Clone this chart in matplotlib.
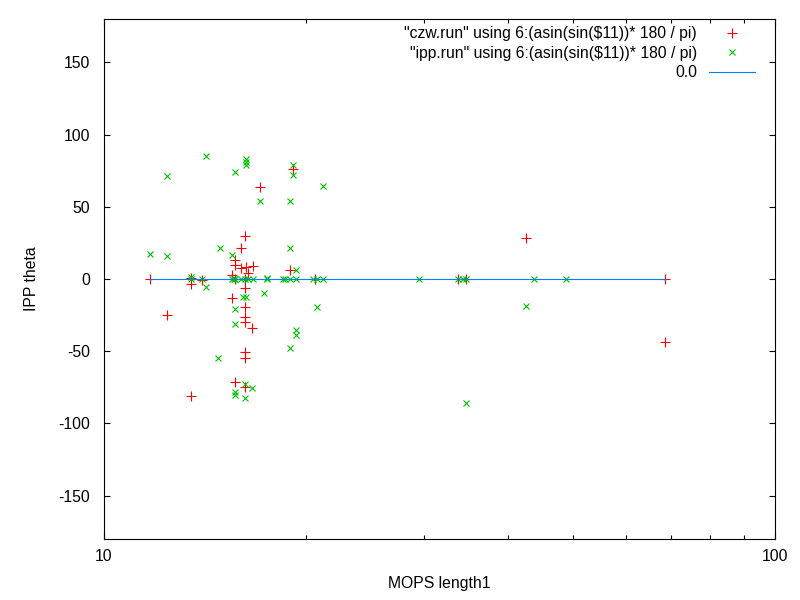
import numpy as np
import matplotlib
matplotlib.use('Agg')
import matplotlib.pyplot as plt
from matplotlib.ticker import LogLocator, NullFormatter, FixedLocator, FixedFormatter

# czw.run: column 6 vs asin(sin($11)) in degrees
czw_x = [11.7, 12.4, 13.5, 13.5, 13.5, 14.0, 15.5, 15.5, 15.7, 15.7, 15.7, 15.7,
         16.0, 16.0, 16.2, 16.2, 16.2, 16.2, 16.2, 16.2, 16.2, 16.2, 16.2,
         16.3, 16.4, 16.6, 16.7, 17.1, 18.9, 19.1, 20.6, 33.7, 34.6, 42.6, 68.5, 68.5]
czw_y = [0, -25, 1, -3.5, -81, -1, 3, -13, 13, 10, -71, 0,
         21.5, 7.5, 30, -6, -19.5, -26.5, -30, -50.5, -54.5, -75, 0,
         8.5, 4, -34, 9, 64, 6, 76, 0, 0, 0, 28.5, 0, -43.5]

# ipp.run
ipp_x = [11.7, 12.4, 12.4, 13.5, 13.5, 14.0, 14.2, 14.2, 14.8, 14.9,
         15.5, 15.5, 15.6, 15.7, 15.7, 15.7, 15.7, 15.7, 15.7,
         16.0, 16.1, 16.3, 16.2, 16.2, 16.2, 16.3, 16.3, 16.3,
         16.4, 16.6, 16.7, 17.1, 17.3, 17.5, 17.5,
         18.5, 18.6, 18.9, 18.9, 18.9, 18.9, 19.1, 19.1,
         19.3, 19.3, 19.3, 19.3, 20.5, 20.8, 20.8, 21.2, 21.2,
         29.5, 33.7, 34.3, 34.6, 34.6, 42.6, 43.7, 48.8]
ipp_y = [17, 16, 71, 0, 1.5, 0, -5.5, 85, -55, 21.5,
         16.5, 0, 0, 0, 74, -21, -31, -78.5, -80,
         0, -12.5, -12.5, 0, -73, -82.5, 83, 81, 79,
         0, -75.5, 0, 54, -10, 0, 1,
         0, 0, 0, 21.5, 54, -48, 79, 72,
         6, 0, -35, -39, 0, 0, -19.5, 0, 64.5,
         0, 0, 0, 0, -86, -19, 0, 0]

y_ticks = [-150, -100, -50, 0, 50, 100, 150]
label_czw = '"czw.run" using 6:(asin(sin(\\$11))* 180 / pi)'
label_ipp = '"ipp.run" using 6:(asin(sin(\\$11))* 180 / pi)'

plt.rcParams['font.family'] = ['Liberation Sans', 'DejaVu Sans']
plt.rcParams['font.size'] = 11.3
plt.rcParams['axes.unicode_minus'] = False

fig = plt.figure(figsize=(8, 6), dpi=100)
ax = fig.add_axes([104 / 800, 1 - 539 / 600, 671 / 800, 520 / 600])

ax.plot(czw_x, czw_y, linestyle='none', marker='+', color='#ff0000',
        markersize=6.5, markeredgewidth=0.8, label=label_czw)
ax.plot(ipp_x, ipp_y, linestyle='none', marker='x', color='#00c000',
        markersize=5, markeredgewidth=0.8, label=label_ipp)
all_x = czw_x + ipp_x
ax.plot([min(all_x), max(all_x)], [0.0, 0.0], color='#0080ff', linewidth=0.8,
        label='0.0')

ax.set_xscale('log')
ax.set_xlim(10, 100)
ax.set_ylim(-180, 180)
ax.xaxis.set_major_locator(FixedLocator([10, 100]))
ax.xaxis.set_major_formatter(FixedFormatter(['10', '100']))
ax.xaxis.set_minor_locator(LogLocator(base=10, subs=np.arange(2, 10)))
ax.xaxis.set_minor_formatter(NullFormatter())
ax.set_yticks(y_ticks)

ax.tick_params(which='both', direction='in', top=True, right=True, colors='black')
ax.tick_params(which='major', length=4.5, width=0.8)
ax.tick_params(which='minor', length=3, width=0.8)
ax.tick_params(axis='y', pad=10)
ax.tick_params(axis='x', pad=7)
for s in ax.spines.values():
    s.set_linewidth(0.8)

ax.set_xlabel('MOPS length1')
ax.xaxis.set_label_coords(0.5, -0.072)
ax.set_ylabel('IPP theta')
ax.yaxis.set_label_coords(-0.097, 0.5)

ax.legend(loc='upper right', bbox_to_anchor=(0.970, 0.986), frameon=False,
          markerfirst=False, handlelength=2.93, handletextpad=0.76,
          labelspacing=0.28, borderaxespad=0, borderpad=0, numpoints=1)

fig.savefig('out.png', dpi=100)
